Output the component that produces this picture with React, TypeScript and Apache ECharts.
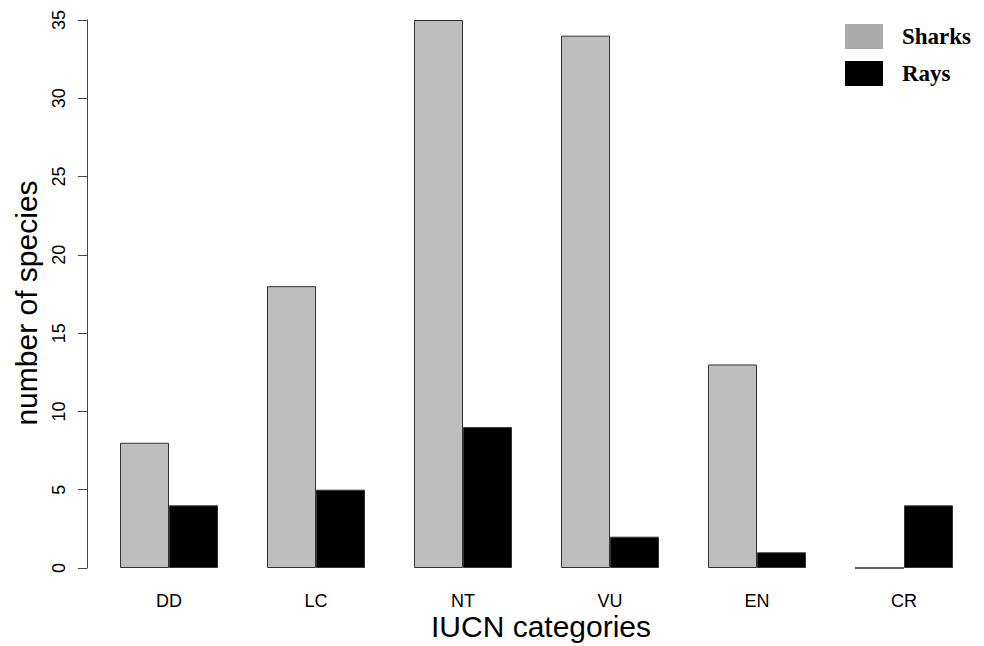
import React, { useEffect, useRef } from "react";
import * as echarts from "echarts";

const categories = ["DD", "LC", "NT", "VU", "EN", "CR"];
const sharks = [8, 18, 35, 34, 13, 0];
const rays = [4, 5, 9, 2, 1, 4];
const yTicks = [0, 5, 10, 15, 20, 25, 30, 35];
const xTitle = "IUCN categories";
const yTitle = "number of species";

export default function App() {
  const ref = useRef<HTMLDivElement>(null);
  useEffect(() => {
    if (!ref.current) return;
    const chart = echarts.init(ref.current, undefined, { renderer: "svg" });
    const sans = "Liberation Sans, Arial, Helvetica, sans-serif";
    chart.setOption({
      animation: false,
      backgroundColor: "#fff",
      grid: { left: 95.5, top: 20, width: 882, height: 548, containLabel: false },
      legend: {
        orient: "vertical",
        left: 845,
        top: 24,
        padding: 0,
        itemWidth: 38,
        itemHeight: 25,
        itemGap: 12,
        icon: "rect",
        textStyle: {
          fontFamily: "Liberation Serif, Times New Roman, serif",
          fontWeight: "bold",
          fontSize: 23,
          color: "#000",
          padding: [0, 0, 0, 14],
        },
        data: [
          { name: "Sharks", itemStyle: { color: "#aaaaaa", borderWidth: 0 } },
          { name: "Rays", itemStyle: { color: "#000000", borderWidth: 0 } },
        ],
      },
      graphic: [
        {
          type: "text",
          x: 541,
          y: 626,
          style: {
            text: xTitle,
            fontFamily: sans,
            fontSize: 30,
            fill: "#000",
            align: "center",
            verticalAlign: "middle",
          },
        },
        {
          type: "text",
          x: 26,
          y: 303,
          rotation: Math.PI / 2,
          style: {
            text: yTitle,
            fontFamily: sans,
            fontSize: 30,
            fill: "#000",
            align: "center",
            verticalAlign: "middle",
          },
        },
      ],
      xAxis: {
        type: "category",
        data: categories,
        axisLine: { show: false },
        axisTick: { show: false },
        axisLabel: { fontFamily: sans, fontSize: 18, color: "#000", margin: 24 },
      },
      yAxis: {
        type: "value",
        min: 0,
        max: 35,
        interval: 5,
        offset: 8.5,
        splitLine: { show: false },
        axisLine: { show: true, lineStyle: { color: "#444", width: 1 } },
        axisTick: { show: true, length: 9, lineStyle: { color: "#444" } },
        axisLabel: {
          fontFamily: sans,
          fontSize: 18,
          color: "#000",
          rotate: 90,
          margin: 19,
          formatter: (v: number) => (yTicks.includes(v) ? String(v) : ""),
        },
      },
      series: [
        {
          name: "Sharks",
          type: "bar",
          data: sharks,
          barWidth: 49,
          barGap: "0%",
          itemStyle: { color: "#bebebe", borderColor: "#333", borderWidth: 1 },
        },
        {
          name: "Rays",
          type: "bar",
          data: rays,
          barWidth: 49,
          barGap: "0%",
          itemStyle: { color: "#000", borderColor: "#333", borderWidth: 1 },
        },
      ],
    });
    return () => chart.dispose();
  }, []);
  return <div ref={ref} style={{ width: 984, height: 646, position: "absolute", left: 0, top: 0 }} />;
}
